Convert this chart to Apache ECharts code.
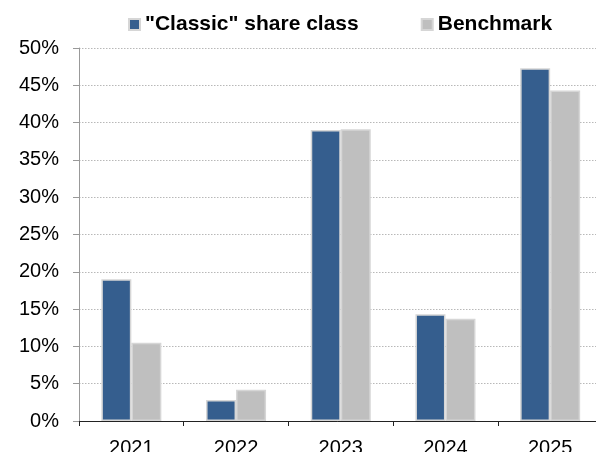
<!DOCTYPE html>
<html>
<head>
<meta charset="utf-8">
<script src="https://cdn.jsdelivr.net/npm/echarts@6/dist/echarts.min.js"></script>
<style>html,body{margin:0;padding:0;background:#fff}#c{width:596px;height:452px}</style>
</head>
<body>
<div id="c"></div>
<script>
var categories = ['2021', '2022', '2023', '2024', '2025'];
var classicValues = [19.0, 2.8, 39.0, 14.3, 47.3];
var benchmarkValues = [10.5, 4.2, 39.1, 13.7, 44.3];
var seriesNames = ['"Classic" share class', 'Benchmark'];

var chart = echarts.init(document.getElementById('c'), null, {renderer: 'canvas'});
var font = 'Liberation Sans, Arial, sans-serif';
chart.setOption({
  animation: false,
  backgroundColor: '#ffffff',
  textStyle: {fontFamily: font},
  legend: {
    left: 128, top: 14, padding: 0,
    itemWidth: 11, itemHeight: 11, itemGap: 62,
    icon: 'rect',
    textStyle: {fontFamily: font, fontSize: 21, fontWeight: 'bold', color: '#000'},
    data: seriesNames
  },
  grid: {left: 79, top: 48, bottom: 31, right: -6.5, containLabel: false, outerBoundsMode: 'none'},
  xAxis: {
    type: 'category',
    data: categories,
    axisLine: {lineStyle: {color: '#222', width: 1}},
    axisTick: {show: true, length: 5, lineStyle: {color: '#222'}},
    axisLabel: {fontFamily: font, fontSize: 20, color: '#000', margin: 17}
  },
  yAxis: {
    type: 'value', min: 0, max: 50, interval: 5,
    axisLine: {show: true, lineStyle: {color: '#999', width: 1}},
    axisTick: {show: true, length: 6, lineStyle: {color: '#999'}},
    axisLabel: {fontFamily: font, fontSize: 20, color: '#000', margin: 20, formatter: '{value}%'},
    splitLine: {show: true, lineStyle: {color: '#b8b8b8', type: [1.5, 1.5], width: 1}}
  },
  series: [
    {
      name: seriesNames[0], type: 'bar', data: classicValues,
      barWidth: 30, barGap: '0%',
      itemStyle: {color: '#355e8e', borderColor: '#d6d6d6', borderWidth: 1.5}
    },
    {
      name: seriesNames[1], type: 'bar', data: benchmarkValues,
      barWidth: 30, barGap: '0%',
      itemStyle: {color: '#bfbfbf', borderColor: '#d6d6d6', borderWidth: 1.5}
    }
  ]
});
</script>
</body>
</html>
